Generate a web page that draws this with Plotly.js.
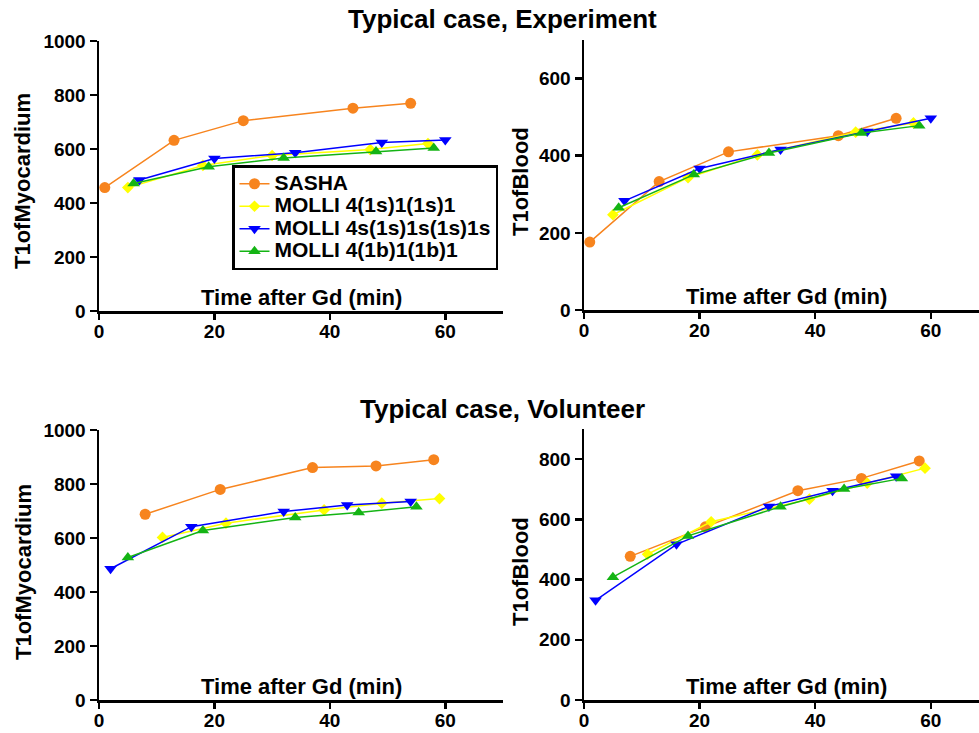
<!DOCTYPE html>
<html>
<head>
<meta charset="utf-8">
<script src="https://cdn.plot.ly/plotly-3.0.1.min.js"></script>
<style>html,body{margin:0;padding:0;background:#fff;}</style>
</head>
<body>
<div id="chart" style="width:979px;height:733px;"></div>
<script>
// ---- Data ----
var seriesNames = ['SASHA', 'MOLLI 4(1s)1(1s)1', 'MOLLI 4s(1s)1s(1s)1s', 'MOLLI 4(1b)1(1b)1'];

// Experiment: time after Gd (min) per sequence
var expTimeSasha = [1, 13, 25, 44, 54];
var expTimeM1 = [5, 18, 30, 47, 57];
var expTimeM2 = [7, 20, 34, 49, 60];
var expTimeM3 = [6, 19, 32, 48, 58];

var expMyoSasha = [457, 632, 705, 751, 769];
var expMyoM1 = [457, 539, 576, 598, 620];
var expMyoM2 = [485, 565, 586, 624, 633];
var expMyoM3 = [472, 534, 567, 591, 604];

var expBloodSasha = [176, 333, 410, 452, 497];
var expBloodM1 = [247, 343, 402, 461, 485];
var expBloodM2 = [283, 367, 416, 463, 497];
var expBloodM3 = [265, 351, 407, 459, 478];

// Volunteer
var volTimeSasha = [8, 21, 37, 48, 58];
var volTimeM1 = [11, 22, 39, 49, 59];
var volTimeM2 = [2, 16, 32, 43, 54];
var volTimeM3 = [5, 18, 34, 45, 55];

var volMyoSasha = [688, 780, 861, 867, 890];
var volMyoM1 = [602, 655, 704, 729, 746];
var volMyoM2 = [486, 642, 698, 722, 735];
var volMyoM3 = [528, 628, 676, 694, 716];

var volBloodSasha = [477, 575, 695, 736, 794];
var volBloodM1 = [484, 592, 667, 720, 770];
var volBloodM2 = [331, 517, 643, 695, 743];
var volBloodM3 = [408, 545, 642, 701, 736];

var xTicks = [0, 20, 40, 60];
var myoTicks = [0, 200, 400, 600, 800, 1000];
var expBloodTicks = [0, 200, 400, 600];
var volBloodTicks = [0, 200, 400, 600, 800];

// ---- Styles ----
var colors = ['#F7841E', '#FFFF00', '#0000FF', '#14B414'];
var symbols = ['circle', 'diamond', 'triangle-down', 'triangle-up'];
var msizes = [11, 9, 11, 11];
var FONT = 'Liberation Sans, Arial, Helvetica, sans-serif';

function mk(x, y, i, xa, ya, showLegend) {
  return {
    x: x, y: y, xaxis: xa, yaxis: ya,
    type: 'scatter', mode: 'lines+markers',
    name: '<span style="font-size:21px">' + seriesNames[i] + '</span>',
    showlegend: showLegend,
    line: {color: colors[i], width: 1.5},
    marker: {color: colors[i], symbol: symbols[i], size: msizes[i], line: {width: 0}}
  };
}

var data = [];
var panels = [
  {xa: 'x', ya: 'y', t: [expTimeSasha, expTimeM1, expTimeM2, expTimeM3], v: [expMyoSasha, expMyoM1, expMyoM2, expMyoM3], leg: true},
  {xa: 'x2', ya: 'y2', t: [expTimeSasha, expTimeM1, expTimeM2, expTimeM3], v: [expBloodSasha, expBloodM1, expBloodM2, expBloodM3], leg: false},
  {xa: 'x3', ya: 'y3', t: [volTimeSasha, volTimeM1, volTimeM2, volTimeM3], v: [volMyoSasha, volMyoM1, volMyoM2, volMyoM3], leg: false},
  {xa: 'x4', ya: 'y4', t: [volTimeSasha, volTimeM1, volTimeM2, volTimeM3], v: [volBloodSasha, volBloodM1, volBloodM2, volBloodM3], leg: false}
];
panels.forEach(function (p) {
  for (var i = 0; i < 4; i++) data.push(mk(p.t[i], p.v[i], i, p.xa, p.ya, p.leg));
});

var W = 979, H = 733;
function px(v) { return v / W; }
function py(v) { return 1 - v / H; }

function xax(domain, range, anchor) {
  return {
    domain: domain, range: range, anchor: anchor,
    tickvals: xTicks, ticktext: xTicks.map(String),
    showgrid: false, zeroline: false, showline: true,
    linecolor: '#000', linewidth: 2.5,
    ticks: 'outside', ticklen: 6, tickwidth: 2.5, tickcolor: '#000',
    ticklabelstandoff: -4,
    tickfont: {family: FONT, size: 19, color: '#000', weight: 'bold'},
    fixedrange: true
  };
}
function yax(domain, range, anchor, ticks) {
  return {
    domain: domain, range: range, anchor: anchor,
    tickvals: ticks, ticktext: ticks.map(String),
    showgrid: false, zeroline: false, showline: true,
    linecolor: '#000', linewidth: 2.5,
    ticks: 'outside', ticklen: 7, tickwidth: 2.5, tickcolor: '#000',
    tickfont: {family: FONT, size: 19, color: '#000', weight: 'bold'},
    fixedrange: true
  };
}

var titleFont = {family: FONT, size: 26, color: '#000', weight: 'bold'};
var axFont = {family: FONT, size: 22, color: '#000', weight: 'bold'};

var annotations = [
  {text: 'Typical case, Experiment', xref: 'paper', yref: 'paper', x: px(502), y: py(19), xanchor: 'center', yanchor: 'middle', showarrow: false, font: titleFont},
  {text: 'Typical case, Volunteer', xref: 'paper', yref: 'paper', x: px(502), y: py(409), xanchor: 'center', yanchor: 'middle', showarrow: false, font: titleFont},
  {text: 'Time after Gd (min)', xref: 'x', yref: 'y domain', x: 35, y: 0.05, xanchor: 'center', yanchor: 'middle', showarrow: false, font: axFont},
  {text: 'Time after Gd (min)', xref: 'x2', yref: 'y2 domain', x: 35, y: 0.05, xanchor: 'center', yanchor: 'middle', showarrow: false, font: axFont},
  {text: 'Time after Gd (min)', xref: 'x3', yref: 'y3 domain', x: 35, y: 0.05, xanchor: 'center', yanchor: 'middle', showarrow: false, font: axFont},
  {text: 'Time after Gd (min)', xref: 'x4', yref: 'y4 domain', x: 35, y: 0.05, xanchor: 'center', yanchor: 'middle', showarrow: false, font: axFont},
  {text: 'T1ofMyocardium', xref: 'paper', yref: 'paper', x: px(23), y: py(181), xanchor: 'center', yanchor: 'middle', textangle: -90, showarrow: false, font: axFont},
  {text: 'T1ofBlood', xref: 'paper', yref: 'paper', x: px(520), y: py(182), xanchor: 'center', yanchor: 'middle', textangle: -90, showarrow: false, font: axFont},
  {text: 'T1ofMyocardium', xref: 'paper', yref: 'paper', x: px(23), y: py(572), xanchor: 'center', yanchor: 'middle', textangle: -90, showarrow: false, font: axFont},
  {text: 'T1ofBlood', xref: 'paper', yref: 'paper', x: px(520), y: py(572), xanchor: 'center', yanchor: 'middle', textangle: -90, showarrow: false, font: axFont}
];

var layout = {
  width: W, height: H,
  margin: {l: 0, r: 0, t: 0, b: 0},
  paper_bgcolor: '#fff', plot_bgcolor: 'rgba(0,0,0,0)',
  font: {family: FONT, color: '#000'},
  showlegend: true,
  legend: {
    x: px(232), y: py(165), xanchor: 'left', yanchor: 'top',
    bgcolor: '#fff', bordercolor: '#000', borderwidth: 2.5,
    font: {family: FONT, size: 15, color: '#000', weight: 'bold'},
    itemwidth: 30, tracegroupgap: 0
  },
  xaxis: xax([px(99), px(503)], [0, 70], 'y'),
  yaxis: yax([py(311), py(41)], [0, 1000], 'x', myoTicks),
  xaxis2: xax([px(584), 1], [0, (979 - 584) / 5.78], 'y2'),
  yaxis2: yax([py(310), py(40)], [0, 700], 'x2', expBloodTicks),
  xaxis3: xax([px(99), px(503)], [0, 70], 'y3'),
  yaxis3: yax([py(700), py(430)], [0, 1000], 'x3', myoTicks),
  xaxis4: xax([px(584), 1], [0, (979 - 584) / 5.78], 'y4'),
  yaxis4: yax([py(700), py(429)], [0, 900], 'x4', volBloodTicks),
  annotations: annotations
};

Plotly.newPlot('chart', data, layout, {displayModeBar: false, staticPlot: true});
</script>
</body>
</html>
